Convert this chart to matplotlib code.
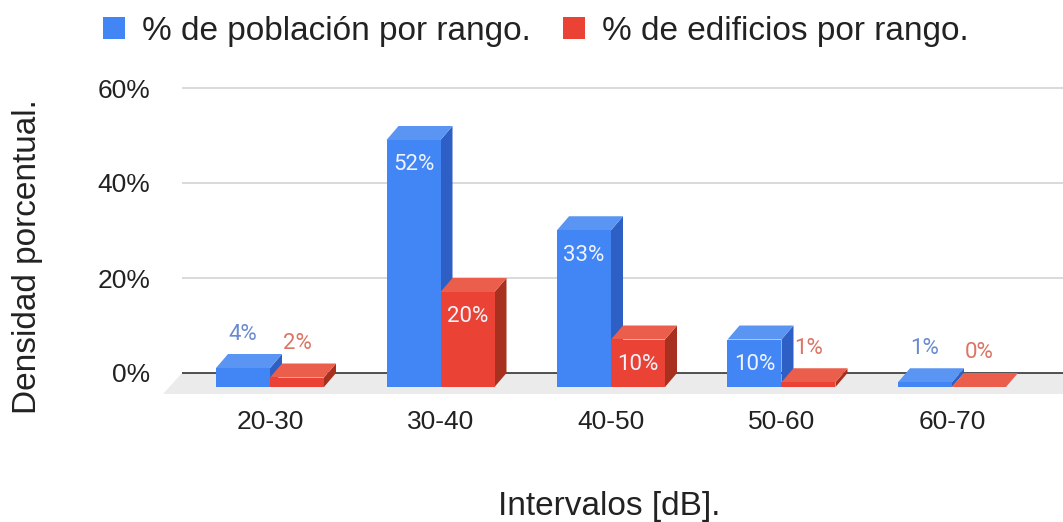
import matplotlib
matplotlib.use("Agg")
import matplotlib.pyplot as plt
from matplotlib.patches import Polygon, Rectangle, Patch

# ---------------- data ----------------
categories = ["20-30", "30-40", "40-50", "50-60", "60-70"]
poblacion = [4, 52, 33, 10, 1]
edificios = [2, 20, 10, 1, 0]
y_ticks = [0, 20, 40, 60]
y_tick_labels = ["0%", "20%", "40%", "60%"]
series_names = ["% de población por rango.", "% de edificios por rango."]
x_title = "Intervalos [dB]."
y_title = "Densidad porcentual."

# ---------------- style ----------------
plt.rcParams["font.family"] = ["Liberation Sans", "DejaVu Sans"]
W, H = 1063, 522
front_cols = ["#4285F4", "#EA4335"]
side_cols = ["#2E5FC4", "#A8301F"]
top_cols = ["#5A95F3", "#EC5E4C"]
out_label_cols = ["#6A8BD0", "#DB7565"]
in_label_col = "#EEF3FD"
text_col = "#222222"

fig = plt.figure(figsize=(W / 100, H / 100), dpi=100)
ax_left, ax_bottom, ax_top = 182, 400, 80
ax = fig.add_axes([ax_left / W, (H - ax_bottom) / H, (W - ax_left) / W,
                   (ax_bottom - ax_top) / H])

PXX = 170.5          # pixels per category
PXY = 4.75           # pixels per percent
zero_px = 373
first_center_px = 270
ax.set_xlim((ax_left - first_center_px) / PXX, (W - first_center_px) / PXX)
ax.set_ylim(-(ax_bottom - zero_px) / PXY, (zero_px - ax_top) / PXY)

DX = 12 / PXX        # depth offset (x)
DY = 14 / PXY        # depth offset (y)
bar_w = 54 / PXX

# floor
x0l, x1l = ax.get_xlim()
floor = Polygon([(x0l, 0), (x1l + 1, 0), (x1l + 1 - 19 / PXX, -21 / PXY),
                 (x0l - 19 / PXX, -21 / PXY)], closed=True, fc="#EBEBEB",
                ec="none", zorder=1, clip_on=False)
ax.add_patch(floor)

# grid and zero line
ax.set_yticks(y_ticks)
ax.set_yticklabels(y_tick_labels)
for t in y_ticks[1:]:
    ax.axhline(t, color="#CFCFCF", lw=1.1, zorder=0.5)
ax.axhline(0, color="#333333", lw=1.2, zorder=2)

# bars
z = 3
for i in range(len(categories)):
    for s, vals in enumerate([poblacion, edificios]):
        v = vals[i]
        x0 = i - bar_w if s == 0 else i
        x1 = x0 + bar_w
        side = Polygon([(x1, -DY), (x1, v - DY), (x1 + DX, v), (x1 + DX, 0)],
                       closed=True, fc=side_cols[s], ec="none", zorder=z)
        top = Polygon([(x0, v - DY), (x1, v - DY), (x1 + DX, v), (x0 + DX, v)],
                      closed=True, fc=top_cols[s], ec="none", zorder=z + 0.1)
        front = Rectangle((x0, -DY), bar_w, v, fc=front_cols[s], ec="none",
                          zorder=z + 0.2)
        ax.add_patch(side)
        ax.add_patch(top)
        ax.add_patch(front)
        xc = (x0 + x1) / 2
        if v >= 8:
            ax.text(xc, v - DY - 25 / PXY, f"{v}%", ha="center", va="center",
                    color=in_label_col, fontsize=16, family="Roboto",
                    zorder=z + 0.5)
        else:
            ax.text(xc, v - DY + 34 / PXY, f"{v}%", ha="center", va="center",
                    color=out_label_cols[s], fontsize=16, family="Roboto",
                    zorder=z + 0.5)
        z += 1

ax.set_xticks(range(len(categories)))
ax.set_xticklabels(categories)
ax.tick_params(axis="both", length=0, labelsize=19, colors=text_col)
ax.tick_params(axis="x", pad=7)
ax.tick_params(axis="y", pad=23)
for sp in ax.spines.values():
    sp.set_visible(False)
ax.set_facecolor("none")

# titles
fig.text(28 / W, 1 - 257 / H, y_title, rotation=90, ha="center", va="center",
         fontsize=24, color=text_col)
fig.text(609.5 / W, 1 - 515 / H, x_title, ha="center", va="baseline",
         fontsize=24, color=text_col)

# legend
handles = [Patch(fc=front_cols[k], ec="none", label=series_names[k]) for k in range(2)]
fig.legend(handles=handles, loc="center left", bbox_to_anchor=(103 / W, 1 - 31 / H),
           ncol=2, frameon=False, prop={"family": "Liberation Sans", "size": 24},
           handlelength=0.66, handleheight=0.66, handletextpad=0.51,
           columnspacing=0.96, borderpad=0, borderaxespad=0, labelcolor=text_col)

fig.savefig("out.png", dpi=100)
